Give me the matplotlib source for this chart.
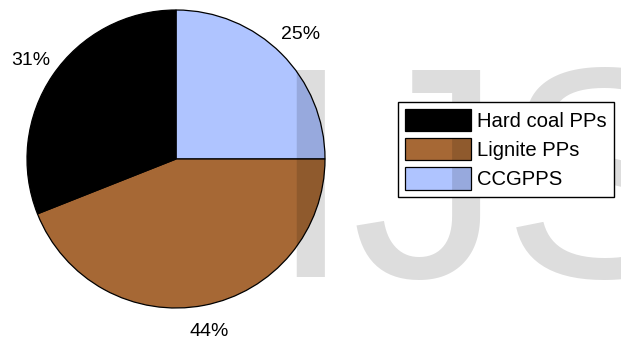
import matplotlib
matplotlib.use('Agg')
from matplotlib import pyplot as plt

plt.rcParams['font.family'] = ['Liberation Sans', 'DejaVu Sans']

# data, drawn clockwise from 12 o'clock
names = ['CCGPPS', 'Lignite PPs', 'Hard coal PPs']
shares = [25, 44, 31]
colors = ['#AFC4FF', '#A66835', '#000000']
legend_order = ['Hard coal PPs', 'Lignite PPs', 'CCGPPS']

W, H = 621, 345
fig = plt.figure(figsize=(W / 100, H / 100), dpi=100)

# pie centre (176, 159) px, radius 149 px
cx, cy, r = 176, 159, 149
ax = fig.add_axes([(cx - r) / W, (H - cy - r) / H, 2 * r / W, 2 * r / H])
wedges, _, pcts = ax.pie(shares, colors=colors, startangle=90, counterclock=False,
                         radius=1, autopct='%1.0f%%', pctdistance=1.18,
                         wedgeprops=dict(edgecolor='black', linewidth=0.9))
for t in pcts:
    t.set_fontsize(14)
    t.set_color('black')
    t.set_clip_on(False)
ax.set_xlim(-1, 1)
ax.set_ylim(-1, 1)
ax.set_aspect('equal')
ax.axis('off')

handles = [wedges[names.index(n)] for n in legend_order]
leg = fig.legend(handles, legend_order, loc='upper left',
                 bbox_to_anchor=(398 / W, 1 - 102 / H), borderaxespad=0,
                 fontsize=14.6, handlelength=3.25, handleheight=1.3,
                 handletextpad=0.3, labelspacing=0.35, borderpad=0.35,
                 fancybox=False, framealpha=1, edgecolor='black')
leg.get_frame().set_linewidth(1.0)
leg.set_zorder(5)

# watermark (under the legend box, tinting the pie)
wm = dict(fontsize=217, color='black', alpha=0.135, ha='left', va='baseline')
wx, wy = 268 / W, (H - 277) / H
fig.text(wx, wy, 'IJSER', zorder=3, **wm)

# the same watermark shows through the legend colour patches
fig.canvas.draw()
for p in leg.legend_handles:
    t = fig.text(wx, wy, 'IJSER', zorder=6, **wm)
    t.set_clip_path(p)

fig.savefig('out.png', dpi=100)
